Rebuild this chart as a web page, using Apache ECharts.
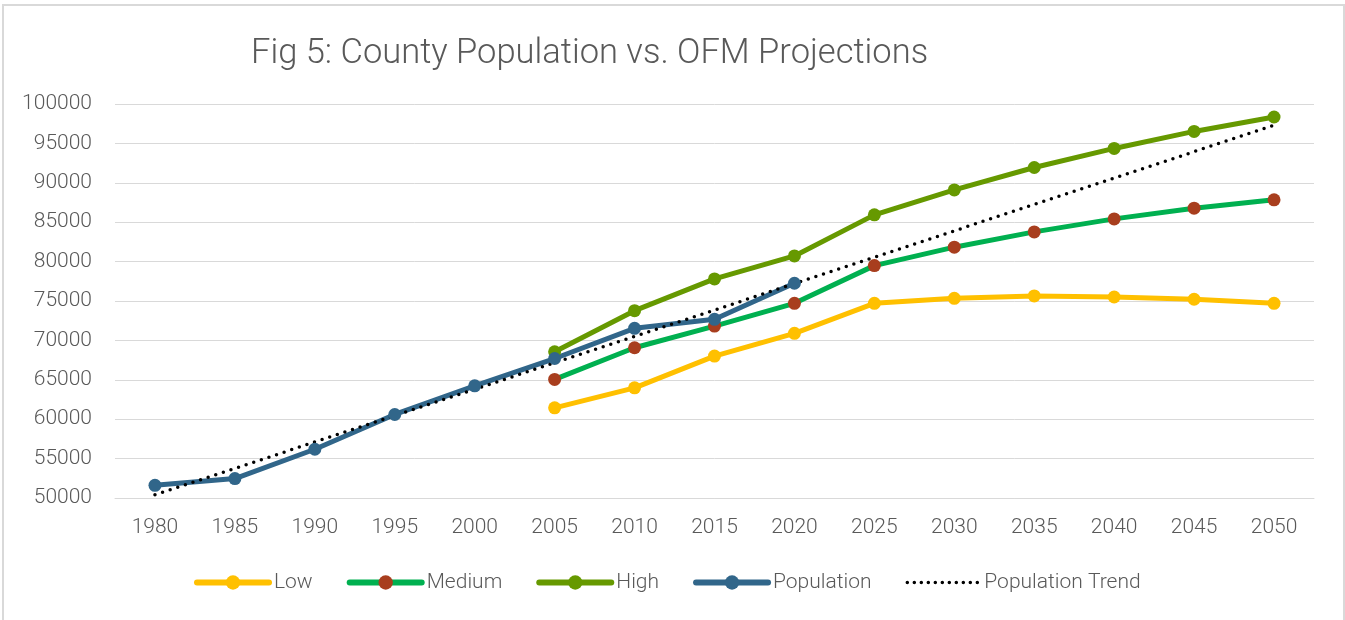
<!DOCTYPE html>
<html>
<head>
<meta charset="utf-8">
<script src="https://cdn.jsdelivr.net/npm/echarts@6/dist/echarts.min.js"></script>
<style>
  html, body { margin: 0; padding: 0; background: #fff; }
  #wrap { position: relative; width: 1345px; height: 620px; }
  #chart { position: absolute; left: 0; top: 0; width: 1345px; height: 620px; }
  #frame { position: absolute; left: 2px; top: 4px; width: 1339px; height: 614px; border: 2px solid #d9d9d9; border-bottom: none; pointer-events: none; }
</style>
</head>
<body>
<div id="wrap">
  <div id="chart"></div>
  <div id="frame"></div>
</div>
<script>
const years = ['1980','1985','1990','1995','2000','2005','2010','2015','2020','2025','2030','2035','2040','2045','2050'];
const low = [null, null, null, null, null, 61440, 63980, 68010, 70900, 74710, 75340, 75640, 75510, 75220, 74710];
const medium = [null, null, null, null, null, 65050, 69070, 71820, 74710, 79490, 81830, 83770, 85420, 86780, 87840];
const high = [null, null, null, null, null, 68560, 73770, 77800, 80720, 85930, 89100, 91940, 94360, 96520, 98350];
const population = [51610, 52470, 56190, 60600, 64240, 67700, 71530, 72680, 77250, null, null, null, null, null, null];
const yTicks = { min: 50000, max: 100000, interval: 5000 };

// Linear least-squares trend of the Population series (as Excel's linear trendline)
function linearTrend(vals, n) {
  const pts = [];
  vals.forEach((v, i) => { if (v != null) pts.push([i + 1, v]); });
  const m = pts.length;
  const mx = pts.reduce((s, p) => s + p[0], 0) / m;
  const my = pts.reduce((s, p) => s + p[1], 0) / m;
  let sxy = 0, sxx = 0;
  pts.forEach(p => { sxy += (p[0] - mx) * (p[1] - my); sxx += (p[0] - mx) * (p[0] - mx); });
  const b = sxy / sxx, a = my - b * mx;
  const out = [];
  for (let i = 1; i <= n; i++) out.push(Math.round(a + b * i));
  return out;
}
const trend = linearTrend(population, years.length);

const FONT = 'Roboto, "Liberation Sans", sans-serif';
const TXT = '#595959';

const chart = echarts.init(document.getElementById('chart'), null, { renderer: 'canvas' });

function lineSeries(name, data, lineColor, markColor) {
  return {
    name: name,
    type: 'line',
    data: data,
    symbol: 'circle',
    symbolSize: 13,
    showSymbol: true,
    connectNulls: false,
    lineStyle: { color: lineColor, width: 5, cap: 'round', join: 'round' },
    itemStyle: { color: markColor, borderWidth: 0 },
    emphasis: { disabled: true },
    animation: false
  };
}

chart.setOption({
  animation: false,
  backgroundColor: '#ffffff',
  title: {
    text: 'Fig 5: County Population vs. OFM Projections',
    left: 246,
    top: 32,
    textStyle: { fontFamily: FONT, fontWeight: 300, fontSize: 34.5, color: TXT }
  },
  legend: {
    left: 189,
    top: 567,
    itemWidth: 72,
    itemHeight: 18,
    itemGap: 34,
    data: [
      { name: 'Low', lineStyle: { width: 6, cap: 'round' } },
      { name: 'Medium', lineStyle: { width: 6, cap: 'round' } },
      { name: 'High', lineStyle: { width: 6, cap: 'round' } },
      { name: 'Population', lineStyle: { width: 6, cap: 'round' } },
      { name: 'Population Trend', lineStyle: { width: 3.5, type: [0, 7], cap: 'round' }, itemStyle: { opacity: 0 } }
    ],
    textStyle: { fontFamily: FONT, fontWeight: 300, fontSize: 21, color: TXT }
  },
  grid: { left: 115, right: 31, top: 104, bottom: 122, containLabel: false },
  xAxis: {
    type: 'category',
    data: years,
    boundaryGap: true,
    axisLine: { show: true, lineStyle: { color: '#d9d9d9', width: 1 } },
    axisTick: { show: false },
    axisLabel: { margin: 19, fontFamily: FONT, fontWeight: 300, fontSize: 21, color: TXT }
  },
  yAxis: {
    type: 'value',
    min: yTicks.min,
    max: yTicks.max,
    interval: yTicks.interval,
    axisLine: { show: false },
    axisTick: { show: false },
    splitLine: { lineStyle: { color: '#d9d9d9', width: 1 } },
    axisLabel: { margin: 23, fontFamily: FONT, fontWeight: 300, fontSize: 21, color: TXT, formatter: v => String(v) }
  },
  series: [
    lineSeries('Low', low, '#FFC000', '#FFC000'),
    lineSeries('Medium', medium, '#00B050', '#A83E1E'),
    lineSeries('High', high, '#669900', '#669900'),
    lineSeries('Population', population, '#31668A', '#31668A'),
    {
      name: 'Population Trend',
      type: 'line',
      data: trend,
      symbol: 'none',
      lineStyle: { color: '#000000', width: 3.5, type: [0, 8], cap: 'round' },
      itemStyle: { color: '#000000' },
      emphasis: { disabled: true },
      animation: false,
      z: 3
    }
  ]
});
</script>
</body>
</html>
